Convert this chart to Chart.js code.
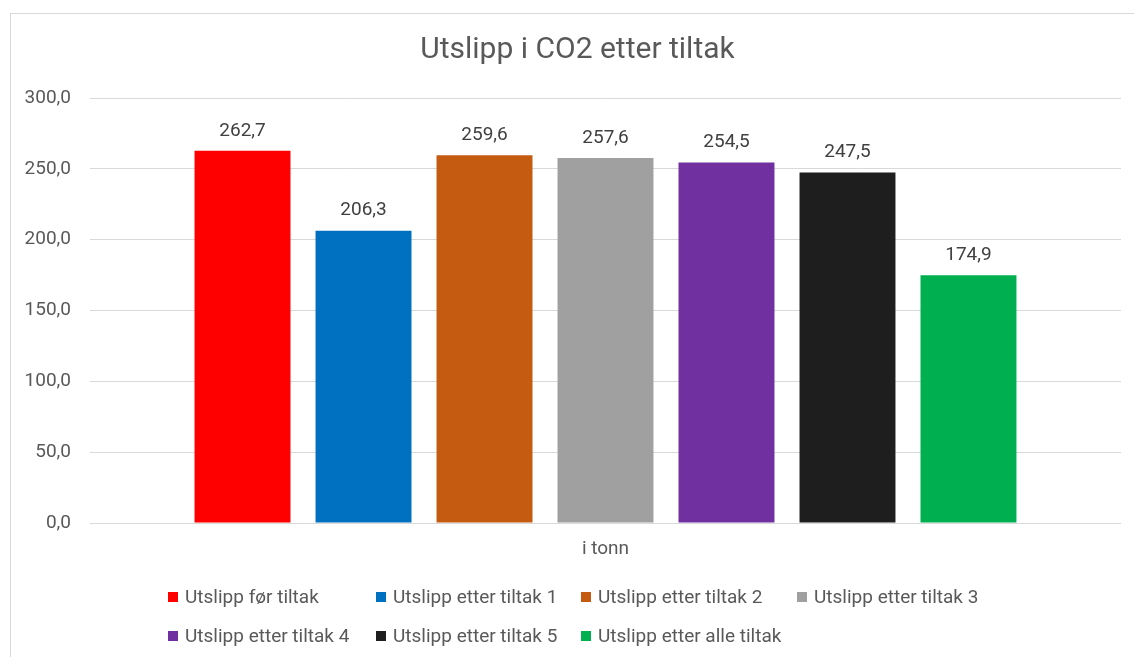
<!DOCTYPE html>
<html>
<head>
<meta charset="utf-8">
<script src="https://cdn.jsdelivr.net/npm/chart.js@4.4.0/dist/chart.umd.min.js"></script>
<style>
    body { margin: 0; background: #fff; overflow: hidden; width: 1134px; height: 657px; position: relative; }
    #frame { position: absolute; left: 10px; top: 13px; width: 1135px; height: 700px; border: 1px solid #d9d9d9; box-sizing: border-box; }
    #plotBox { position: absolute; left: 0; top: 0; width: 1133px; height: 698px; }
    #legend { position: absolute; left: 157px; top: 563px; display: grid; grid-template-columns: 208px 205px 216px auto; grid-auto-rows: 39px;
              font-family: Roboto, sans-serif; font-size: 19px; color: #595959; }
    #legend .item { display: flex; align-items: center; white-space: nowrap; }
    #legend .box { width: 10px; height: 10px; margin-right: 7px; flex: none; }
</style>
</head>
<body>
<div id="frame">
    <div id="plotBox"><canvas id="co2Chart"></canvas></div>
    <div id="legend"></div>
</div>
<script>
// Chart data
const categories = ['i tonn'];
const seriesNames = [
    'Utslipp før tiltak',
    'Utslipp etter tiltak 1',
    'Utslipp etter tiltak 2',
    'Utslipp etter tiltak 3',
    'Utslipp etter tiltak 4',
    'Utslipp etter tiltak 5',
    'Utslipp etter alle tiltak'
];
const seriesValues = [262.7, 206.3, 259.6, 257.6, 254.5, 247.5, 174.9];
const seriesColors = ['#ff0000', '#0070c0', '#c55a11', '#a0a0a0', '#7030a0', '#1e1e1e', '#00b050'];
const yTicks = { min: 0, max: 300, step: 50 };

function formatNo(v) {
    return Number(v).toFixed(1).replace('.', ',');
}

// Draws the value above each bar
const valueLabels = {
    id: 'valueLabels',
    afterDatasetsDraw(chart) {
        const ctx = chart.ctx;
        ctx.save();
        ctx.font = '19px Roboto, sans-serif';
        ctx.fillStyle = '#404040';
        ctx.textAlign = 'center';
        ctx.textBaseline = 'middle';
        chart.data.datasets.forEach((ds, i) => {
            chart.getDatasetMeta(i).data.forEach((bar, j) => {
                ctx.fillText(formatNo(ds.data[j]), bar.x, bar.y - 20);
            });
        });
        ctx.restore();
    }
};

const datasets = seriesNames.map((name, i) => ({
    label: name,
    data: [seriesValues[i]],
    backgroundColor: seriesColors[i],
    borderWidth: 0,
    yAxisID: 'y',
    categoryPercentage: 0.8215,
    barPercentage: 0.793
}));

const ctx = document.getElementById('co2Chart').getContext('2d');
const co2Chart = new Chart(ctx, {
    type: 'bar',
    data: { labels: categories, datasets: datasets },
    options: {
        responsive: true,
        maintainAspectRatio: false,
        animation: false,
        layout: { padding: { left: 0, right: 0, top: 0, bottom: 149 } },
        scales: {
            x: {
                grid: { display: false, drawTicks: false },
                border: { display: false },
                ticks: { color: '#595959', font: { family: 'Roboto', size: 19 }, padding: 15 },
                afterFit: scale => { scale.width = scale.width; scale.height = 40; }
            },
            y: {
                min: yTicks.min,
                max: yTicks.max,
                grid: { color: '#d9d9d9', lineWidth: 1, drawTicks: false },
                border: { display: false },
                ticks: {
                    stepSize: yTicks.step,
                    color: '#595959',
                    font: { family: 'Roboto', size: 19 },
                    padding: 19,
                    callback: value => formatNo(value)
                },
                afterFit: scale => { scale.width = 79; }
            },
            // empty right-hand axis, only to leave the blank margin right of the plot
            yRight: {
                position: 'right',
                min: yTicks.min,
                max: yTicks.max,
                grid: { display: false, drawTicks: false },
                border: { display: false },
                ticks: { display: false },
                afterFit: scale => { scale.width = 23; }
            }
        },
        plugins: {
            legend: { display: false },
            tooltip: { enabled: false },
            title: {
                display: true,
                text: 'Utslipp i CO2 etter tiltak',
                color: '#595959',
                font: { family: 'Roboto', size: 30, weight: 'normal' },
                padding: { top: 18, bottom: 30 }
            }
        }
    },
    plugins: [valueLabels]
});

// Legend laid out in columns like the original
const legendEl = document.getElementById('legend');
co2Chart.data.datasets.forEach(ds => {
    const item = document.createElement('div');
    item.className = 'item';
    const box = document.createElement('span');
    box.className = 'box';
    box.style.background = ds.backgroundColor;
    item.appendChild(box);
    item.appendChild(document.createTextNode(ds.label));
    legendEl.appendChild(item);
});
</script>
</body>
</html>
